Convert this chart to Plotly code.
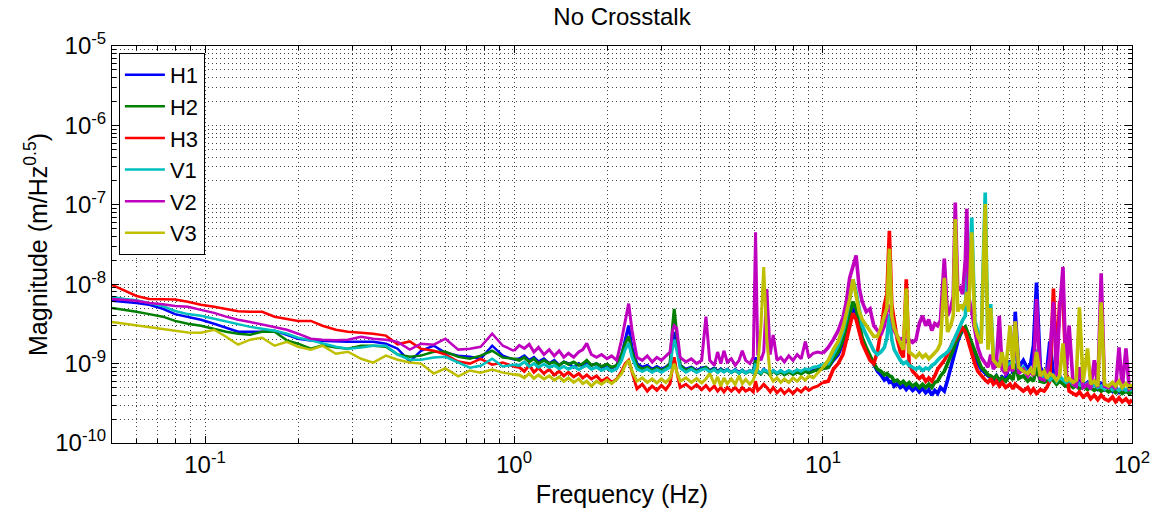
import math
import plotly.graph_objects as go

# ---------------- data (magnitudes in units of 1e-9 m/Hz^0.5) ----------------
UNIT = 1e-9

FREQ_LOW = [0.05, 0.055, 0.06, 0.066, 0.073, 0.08, 0.088, 0.097, 0.107, 0.117,
            0.128, 0.14, 0.153, 0.168, 0.184, 0.2, 0.22, 0.24, 0.265, 0.29,
            0.32, 0.35, 0.385, 0.42, 0.46, 0.5, 0.55, 0.6, 0.66, 0.72,
            0.78, 0.85, 0.92, 1.0]
FREQ_MID = [1.04, 1.08, 1.12, 1.16, 1.2, 1.25, 1.3, 1.35, 1.4, 1.45,
            1.5, 1.56, 1.62, 1.67, 1.72, 1.78, 1.85, 1.92, 2.0, 2.07,
            2.15, 2.23, 2.29, 2.35, 2.41, 2.5, 2.6, 2.7, 2.8, 2.9,
            3.0, 3.1, 3.2, 3.26, 3.3, 3.36, 3.45, 3.6, 3.75, 3.9,
            4.05, 4.18, 4.3, 4.45, 4.56, 4.67, 4.78, 4.9, 5.05, 5.2,
            5.35, 5.48, 5.62, 5.8, 5.95, 6.05, 6.15, 6.3, 6.43, 6.58,
            6.75, 6.9, 7.1, 7.3, 7.5, 7.75, 8.0, 8.25, 8.5, 8.77,
            9.0, 9.3, 9.6, 10.0]
FREQ_HIGH = [10.4, 10.8, 11.2, 11.6, 11.9, 12.2, 12.5, 12.8, 13.1, 13.4,
             13.8, 14.2, 14.6, 15.0, 15.4, 15.8, 16.1, 16.4, 16.7, 17.0,
             17.4, 17.8, 18.2, 18.6, 19.0, 19.5, 20.0, 20.5, 21.0, 21.5,
             22.0, 22.5, 23.0, 23.5, 24.0, 24.7, 25.3, 25.9, 26.4, 26.8,
             27.3, 27.8, 28.3, 28.9, 29.2, 29.6, 30.3, 31.0, 31.7, 32.5,
             33.5, 34.2, 34.9, 35.6, 36.4, 37.2, 38.0, 39.0, 40.3, 41.2,
             41.9, 43.0, 44.5, 46.0, 47.0, 48.0, 49.1, 50.5, 52.0, 53.0,
             54.2, 55.7, 57.0, 58.3, 59.8, 61.2, 62.6, 64.5, 66.0, 67.6,
             69.5, 71.8, 73.5, 75.5, 77.5, 79.5, 81.5, 84.0, 86.5, 88.5,
             90.8, 93.0, 95.6, 98.0, 100.0]

H1_LOW = [6.2, 6.0, 5.8, 5.5, 4.9, 4.2, 3.9, 3.56, 3.17, 2.83,
          2.52, 2.52, 2.52, 2.6, 2.31, 2.06, 1.96, 1.94, 1.88, 1.88,
          1.88, 1.88, 1.78, 1.54, 1.06, 1.45, 1.68, 1.37, 1.26, 1.22,
          1.15, 1.68, 1.26, 1.12]
H1_MID = [1.15, 1.25, 1.1, 1.2, 1.05, 1.15, 1.0, 1.1, 0.95, 1.05,
          1.0, 0.9, 1.0, 0.92, 1.05, 0.95, 1.0, 0.9, 0.95, 0.88,
          0.95, 1.3, 2.0, 3.0, 1.6, 1.0, 0.9, 0.95, 0.85, 0.92,
          0.85, 0.9, 1.0, 2.0, 2.5, 1.8, 0.95, 0.85, 0.9, 0.82,
          0.88, 0.9, 0.82, 0.88, 0.8, 0.86, 0.8, 0.85, 0.78, 0.84,
          0.78, 0.83, 0.77, 0.82, 0.78, 1.2, 0.8, 0.76, 0.85, 0.8,
          0.75, 0.82, 0.75, 0.8, 0.74, 0.8, 0.74, 0.8, 0.76, 0.82,
          0.78, 0.82, 0.85, 0.88]
H1_HIGH = [0.9, 1.1, 1.3, 1.8, 2.6, 3.8, 5.0, 4.2, 2.6, 1.9,
           1.5, 1.2, 0.95, 0.8, 0.72, 0.62, 0.66, 0.58, 0.6, 0.52,
           0.56, 0.5, 0.53, 0.47, 0.52, 0.46, 0.5, 0.44, 0.49, 0.43,
           0.47, 0.4, 0.46, 0.42, 0.5, 0.45, 0.62, 0.9, 1.2, 1.5,
           1.9, 2.3, 2.6, 2.8, 2.5, 2.2, 1.7, 1.3, 1.0, 0.85,
           0.75, 0.7, 0.68, 0.62, 0.7, 0.6, 0.68, 0.62, 1.1, 0.75,
           4.5, 0.9, 1.1, 0.85, 1.0, 1.7, 10.5, 0.9, 0.75, 0.8,
           1.9, 0.75, 0.65, 0.7, 0.6, 0.65, 0.55, 0.62, 0.55, 0.6,
           0.52, 0.58, 0.5, 0.56, 0.48, 0.55, 0.47, 0.52, 0.45, 0.5,
           0.44, 0.5, 0.45, 0.5, 0.46]

H2_LOW = [5.0, 4.75, 4.5, 4.2, 3.9, 3.45, 3.17, 3.0, 2.75, 2.52,
          2.38, 2.31, 2.52, 2.52, 1.96, 1.78, 1.54, 1.7, 1.59, 1.54,
          1.68, 1.68, 1.63, 1.3, 1.22, 1.26, 1.41, 1.41, 1.22, 1.15,
          1.26, 1.45, 1.19, 1.15]
H2_MID = [1.1, 1.2, 1.05, 1.15, 1.0, 1.1, 1.0, 1.05, 0.95, 1.05,
          0.98, 1.05, 0.95, 1.0, 1.1, 0.95, 1.0, 0.92, 0.98, 0.9,
          0.95, 1.3, 1.8, 2.2, 1.4, 0.95, 0.85, 0.9, 0.82, 0.88,
          0.82, 0.88, 1.0, 3.0, 4.9, 2.5, 0.95, 0.82, 0.88, 0.8,
          0.85, 0.9, 0.8, 0.86, 0.78, 0.84, 0.8, 0.83, 0.77, 0.82,
          0.76, 0.82, 0.76, 0.8, 0.76, 1.1, 0.78, 0.74, 0.82, 0.78,
          0.73, 0.8, 0.74, 0.78, 0.72, 0.78, 0.73, 0.78, 0.74, 0.8,
          0.76, 0.8, 0.84, 0.87]
H2_HIGH = [0.9, 1.15, 1.4, 2.0, 3.0, 4.5, 6.0, 5.0, 3.0, 2.1,
           1.6, 1.25, 1.0, 0.85, 0.8, 0.72, 0.75, 0.7, 0.68, 0.6,
           0.62, 0.56, 0.6, 0.54, 0.58, 0.52, 0.56, 0.5, 0.55, 0.5,
           0.55, 0.5, 0.58, 0.6, 0.7, 0.8, 1.0, 1.2, 1.5, 1.8,
           2.1, 2.4, 2.7, 2.9, 2.6, 2.3, 1.8, 1.4, 1.1, 0.9,
           0.8, 0.72, 0.7, 0.65, 0.7, 0.62, 0.66, 0.6, 0.7, 0.62,
           1.0, 0.65, 0.7, 0.6, 0.65, 0.6, 0.9, 0.6, 0.58, 0.6,
           0.7, 0.6, 0.55, 0.6, 0.55, 0.52, 0.55, 0.5, 0.53, 0.48,
           0.52, 0.47, 0.5, 0.46, 0.49, 0.45, 0.48, 0.44, 0.47, 0.43,
           0.46, 0.42, 0.45, 0.42, 0.44]

H3_LOW = [9.8, 8.2, 7.1, 6.5, 6.5, 6.4, 6.0, 5.5, 5.2, 4.9,
          4.55, 4.5, 4.5, 3.9, 3.66, 3.45, 3.45, 3.0, 2.67, 2.52,
          2.45, 2.38, 2.25, 1.75, 1.9, 1.54, 1.45, 1.3, 1.06, 1.0,
          1.15, 0.97, 1.03, 0.92]
H3_MID = [0.9, 0.8, 0.95, 0.78, 0.88, 0.75, 0.85, 0.72, 0.8, 0.7,
          0.78, 0.68, 0.75, 0.66, 0.72, 0.64, 0.7, 0.6, 0.66, 0.58,
          0.64, 0.8, 1.0, 1.1, 0.8, 0.48, 0.55, 0.45, 0.52, 0.46,
          0.53, 0.47, 0.56, 0.9, 1.2, 0.8, 0.5, 0.55, 0.48, 0.54,
          0.47, 0.53, 0.46, 0.52, 0.45, 0.5, 0.44, 0.5, 0.45, 0.5,
          0.44, 0.5, 0.45, 0.48, 0.44, 0.6, 0.46, 0.5, 0.55, 0.5,
          0.44, 0.5, 0.43, 0.48, 0.42, 0.47, 0.42, 0.48, 0.44, 0.5,
          0.46, 0.5, 0.52, 0.58]
H3_HIGH = [0.6, 0.85, 1.0, 1.3, 1.9, 3.0, 4.3, 3.6, 2.4, 1.8,
           1.4, 1.1, 1.0, 1.4, 2.6, 5.5, 7.5, 47.0, 5.5, 3.5,
           2.0, 1.4, 1.2, 11.5, 1.0, 0.8, 0.72, 0.65, 0.7, 0.6,
           0.66, 0.6, 0.7, 0.85, 0.95, 1.1, 1.3, 1.6, 1.9, 2.0,
           2.3, 2.6, 2.8, 2.5, 2.2, 1.8, 1.3, 1.0, 0.8, 0.7,
           0.62, 0.58, 0.65, 0.55, 0.6, 0.52, 0.58, 0.5, 0.55, 0.48,
           0.55, 0.5, 0.45, 0.5, 0.43, 0.48, 0.42, 0.47, 0.45, 0.5,
           0.6, 8.8, 1.0, 5.9, 6.6, 0.8, 0.45, 0.42, 0.4, 0.44,
           0.38, 0.42, 0.36, 0.4, 0.35, 0.4, 0.36, 0.34, 0.38, 0.33,
           0.37, 0.33, 0.36, 0.32, 0.35]

V1_LOW = [6.9, 6.5, 6.3, 5.8, 5.3, 4.6, 4.2, 4.0, 3.66, 3.4,
          3.17, 2.9, 2.75, 2.6, 2.38, 2.12, 1.96, 1.78, 1.63, 1.54,
          1.59, 1.68, 1.68, 1.3, 1.12, 1.12, 1.19, 1.22, 1.03, 0.89,
          0.94, 1.15, 0.92, 0.97]
V1_MID = [0.95, 1.05, 0.92, 1.0, 0.9, 0.98, 0.9, 0.95, 0.86, 0.92,
          0.85, 0.92, 0.84, 0.9, 0.95, 0.85, 0.9, 0.82, 0.88, 0.8,
          0.86, 1.1, 1.5, 1.8, 1.2, 0.85, 0.8, 0.85, 0.78, 0.84,
          0.78, 0.84, 0.9, 1.6, 2.0, 1.5, 0.88, 0.78, 0.85, 0.77,
          0.84, 0.86, 0.78, 0.84, 0.77, 0.83, 0.78, 0.84, 0.77, 0.83,
          0.76, 0.82, 0.76, 0.82, 0.77, 1.0, 0.8, 0.76, 0.84, 0.8,
          0.76, 0.82, 0.76, 0.82, 0.76, 0.82, 0.77, 0.84, 0.8, 0.86,
          0.84, 0.9, 0.92, 0.98]
V1_HIGH = [1.0, 1.3, 1.7, 2.5, 3.8, 6.5, 11.5, 8.0, 4.5, 3.0,
           2.3, 1.8, 1.45, 1.3, 1.4, 1.6, 2.1, 4.2, 2.0, 1.5,
           1.25, 1.1, 1.0, 1.05, 0.95, 0.9, 0.85, 0.9, 0.82, 0.88,
           0.85, 0.95, 1.0, 1.1, 1.2, 1.3, 1.4, 1.6, 1.9, 2.2,
           2.6, 3.0, 3.5, 4.0, 30.0, 5.0, 69.0, 3.5, 2.5, 2.0,
           143.0, 1.6, 5.6, 1.2, 1.1, 1.0, 0.95, 0.9, 1.0, 0.85,
           2.0, 0.8, 0.9, 0.75, 0.8, 0.72, 1.5, 0.7, 0.65, 0.7,
           0.62, 0.7, 0.6, 0.68, 0.62, 0.58, 0.62, 0.55, 0.6, 0.55,
           0.52, 0.56, 0.5, 0.55, 0.5, 0.52, 0.48, 0.52, 0.47, 0.5,
           0.46, 0.5, 0.46, 0.49, 0.45]

V2_LOW = [6.5, 6.3, 6.2, 5.8, 5.6, 5.3, 5.2, 4.75, 4.35, 3.9,
          3.56, 3.35, 3.1, 2.86, 2.67, 2.38, 2.06, 2.0, 1.97, 2.0,
          2.18, 2.06, 2.0, 1.88, 1.5, 1.78, 1.73, 2.06, 1.5, 1.54,
          1.63, 2.38, 1.68, 1.45]
V2_MID = [1.7, 1.55, 1.75, 1.4, 1.6, 1.3, 1.5, 1.25, 1.45, 1.2,
          1.35, 1.2, 1.4, 1.5, 1.8, 1.3, 1.2, 1.3, 1.15, 1.25,
          1.1, 2.0, 3.5, 5.7, 2.6, 1.2, 1.1, 1.25, 1.05, 1.2,
          1.1, 1.25, 1.4, 2.6, 3.0, 2.8, 1.2, 1.05, 1.15, 1.0,
          1.1, 3.9, 1.1, 0.95, 1.4, 1.0, 1.45, 1.05, 1.15, 0.95,
          1.1, 1.45, 1.1, 1.0, 1.2, 45.0, 1.3, 1.1, 1.4, 8.7,
          1.3, 2.3, 1.1, 1.2, 1.05, 1.25, 1.1, 1.3, 1.15, 1.9,
          1.2, 1.35, 1.4, 1.35]
V2_HIGH = [1.6, 2.0, 2.6, 3.8, 6.0, 12.0, 17.0, 23.0, 9.0, 6.0,
           4.5, 4.9, 3.0, 2.6, 2.3, 3.0, 4.5, 5.5, 3.5, 2.6,
           2.2, 2.0, 2.1, 1.9, 2.0, 1.85, 2.0, 3.2, 4.0, 3.0,
           3.6, 2.6, 3.2, 3.0, 3.5, 21.0, 4.0, 5.0, 7.0, 107.0,
           8.7, 9.0, 7.5, 21.0, 89.0, 7.0, 4.5, 2.5, 1.6, 1.2,
           1.0, 0.9, 1.3, 0.85, 1.0, 4.0, 0.85, 0.75, 0.9, 0.8,
           3.4, 0.75, 0.85, 0.7, 0.8, 0.7, 6.5, 0.65, 0.62, 0.7,
           1.2, 6.0, 0.7, 4.5, 16.5, 0.7, 3.0, 0.55, 0.52, 0.9,
           0.5, 0.55, 0.48, 1.1, 0.5, 13.7, 0.52, 0.5, 0.55, 0.48,
           1.6, 0.5, 1.55, 0.48, 0.5]

V3_LOW = [3.33, 3.17, 3.0, 2.86, 2.75, 2.6, 2.46, 2.45, 2.67, 2.18,
          1.73, 2.0, 2.12, 1.68, 1.88, 1.63, 1.5, 1.68, 1.33, 1.41,
          1.15, 1.03, 1.26, 1.12, 1.03, 1.0, 0.75, 0.87, 0.69, 0.82,
          0.77, 0.84, 0.77, 0.73]
V3_MID = [0.72, 0.66, 0.75, 0.65, 0.72, 0.64, 0.7, 0.62, 0.68, 0.6,
          0.66, 0.58, 0.64, 0.56, 0.6, 0.52, 0.6, 0.55, 0.62, 0.56,
          0.63, 0.75, 0.95, 1.1, 0.8, 0.6, 0.66, 0.58, 0.64, 0.57,
          0.64, 0.58, 0.66, 0.85, 1.0, 0.8, 0.6, 0.66, 0.58, 0.65,
          0.57, 0.64, 0.75, 0.55, 0.68, 0.52, 0.66, 0.56, 0.64, 0.55,
          0.7, 0.56, 0.63, 0.55, 0.62, 0.75, 0.9, 3.0, 16.4, 2.0,
          0.7, 0.6, 0.66, 0.58, 0.64, 0.58, 0.66, 0.6, 0.68, 0.62,
          0.7, 0.66, 0.75, 0.9]
V3_HIGH = [1.1, 1.5, 1.9, 2.8, 4.2, 6.5, 11.5, 7.0, 4.5, 3.6,
           3.0, 2.6, 2.2, 2.2, 2.8, 4.0, 5.0, 28.0, 4.0, 2.8,
           2.2, 1.8, 1.5, 8.8, 1.4, 1.3, 1.2, 1.35, 1.2, 1.3,
           1.15, 1.25, 1.4, 1.5, 1.8, 12.0, 2.5, 3.0, 4.0, 66.0,
           4.5, 5.5, 5.0, 6.0, 8.0, 4.5, 45.0, 3.0, 2.2, 1.8,
           102.0, 1.5, 5.0, 1.1, 1.0, 0.9, 1.4, 0.8, 3.0, 0.85,
           3.4, 0.9, 0.8, 0.75, 0.85, 0.72, 1.4, 0.7, 0.8, 0.65,
           0.75, 0.7, 0.62, 0.7, 1.8, 0.6, 0.65, 0.58, 0.62, 5.1,
           0.58, 1.55, 0.55, 0.6, 0.52, 5.9, 0.55, 0.52, 0.58, 0.52,
           0.6, 0.5, 0.56, 0.5, 0.55]

SERIES_NAMES = ["H1", "H2", "H3", "V1", "V2", "V3"]
SERIES_COLORS = ["#0000FF", "#008000", "#FF0000", "#00BFBF", "#BF00BF", "#BFBF00"]
SERIES_SEGMENTS = [
    (H1_LOW, H1_MID, H1_HIGH),
    (H2_LOW, H2_MID, H2_HIGH),
    (H3_LOW, H3_MID, H3_HIGH),
    (V1_LOW, V1_MID, V1_HIGH),
    (V2_LOW, V2_MID, V2_HIGH),
    (V3_LOW, V3_MID, V3_HIGH),
]

X_TICKS = [0.1, 1, 10, 100]
X_TICK_TEXT = ["10<sup>-1</sup>", "10<sup>0</sup>", "10<sup>1</sup>", "10<sup>2</sup>"]
Y_TICKS = [1e-10, 1e-9, 1e-8, 1e-7, 1e-6, 1e-5]
Y_TICK_TEXT = ["10<sup>-10</sup>", "10<sup>-9</sup>", "10<sup>-8</sup>",
               "10<sup>-7</sup>", "10<sup>-6</sup>", "10<sup>-5</sup>"]

# ---------------- figure ----------------
FONT = "Liberation Sans, Arial, Helvetica, sans-serif"
SEG_WIDTHS = [2.5, 3.0, 3.6]   # denser spectra drawn heavier, as in the source
fig = go.Figure()
for name, color, (lo, mid, hi) in zip(SERIES_NAMES, SERIES_COLORS, SERIES_SEGMENTS):
    segs = [
        (FREQ_LOW, lo),
        ([FREQ_LOW[-1]] + FREQ_MID, [lo[-1]] + mid),
        ([FREQ_MID[-1]] + FREQ_HIGH, [mid[-1]] + hi),
    ]
    for i, (fx, vy) in enumerate(segs):
        pts = list(zip(fx, vy))
        fig.add_trace(go.Scatter(
            x=[p[0] for p in pts], y=[p[1] * UNIT for p in pts],
            mode="lines", name=name, legendgroup=name, showlegend=(i == 0),
            line=dict(color=color, width=SEG_WIDTHS[i]),
        ))

x_minor = [d * 10.0 ** k for k in range(-2, 2) for d in range(2, 10)]
y_minor = [d * 10.0 ** k for k in range(-10, -5) for d in range(2, 10)]
grid_col = "rgba(0,0,0,0.75)"
grid_dash = "1px,3px"

fig.update_layout(
    width=1162, height=515,
    margin=dict(l=112, r=18, t=46, b=70),
    paper_bgcolor="white", plot_bgcolor="white",
    font=dict(family=FONT, color="black", size=22),
    title=dict(text="No Crosstalk", x=0.5, xref="paper", y=1 - 17 / 515,
               yref="container", xanchor="center", yanchor="middle",
               font=dict(size=24, family=FONT, color="black")),
    showlegend=True,
    legend=dict(x=0.0068, y=0.9825, xanchor="left", yanchor="top",
                bgcolor="white", bordercolor="black", borderwidth=1,
                font=dict(size=22, family=FONT, color="black"),
                tracegroupgap=0, itemwidth=40),
)

fig.update_xaxes(
    type="log", range=[math.log10(0.05), 2.0001],
    tickmode="array", tickvals=X_TICKS, ticktext=X_TICK_TEXT,
    tickfont=dict(size=24), ticks="inside", ticklen=7, tickcolor="black",
    showline=True, linecolor="black", linewidth=1, mirror="allticks",
    showgrid=True, gridcolor=grid_col, griddash=grid_dash, gridwidth=1, zeroline=False,
    minor=dict(tickmode="array", tickvals=x_minor, ticks="inside", ticklen=4,
               tickcolor="black", showgrid=True, gridcolor=grid_col,
               griddash=grid_dash, gridwidth=1),
    title=dict(text="Frequency (Hz)", font=dict(size=25), standoff=8),
)
fig.update_yaxes(
    type="log", range=[-10.0001, -4.9999],
    tickmode="array", tickvals=Y_TICKS, ticktext=Y_TICK_TEXT,
    tickfont=dict(size=24), ticks="inside", ticklen=7, tickcolor="black",
    showline=True, linecolor="black", linewidth=1, mirror="allticks",
    showgrid=True, gridcolor=grid_col, griddash=grid_dash, gridwidth=1, zeroline=False,
    minor=dict(tickmode="array", tickvals=y_minor, ticks="inside", ticklen=4,
               tickcolor="black", showgrid=True, gridcolor=grid_col,
               griddash=grid_dash, gridwidth=1),
    title=dict(text="Magnitude (m/Hz<sup>0.5</sup>)", font=dict(size=25), standoff=0),
)

fig.write_html("out.html")
